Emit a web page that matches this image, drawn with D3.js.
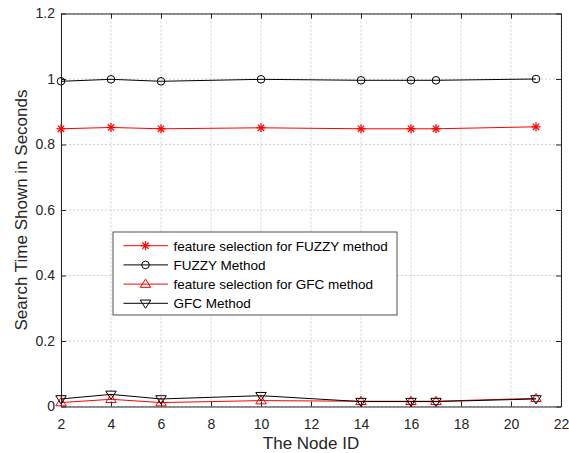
<!DOCTYPE html>
<html>
<head>
<meta charset="utf-8">
<script src="https://cdn.jsdelivr.net/npm/d3@7"></script>
<style>
  body { margin: 0; background: #fff; }
  text { font-family: "Liberation Sans", Arial, sans-serif; }
</style>
</head>
<body>
<svg id="chart" width="569" height="453"></svg>
<script>
// node ids on the x axis
let nodeIds = [2, 4, 6, 10, 14, 16, 17, 21];

// search times
let fuzzyFeature = [0.848, 0.852, 0.848, 0.851, 0.848, 0.848, 0.848, 0.854];
let fuzzyMethod = [0.993, 0.999, 0.993, 0.999, 0.996, 0.996, 0.996, 1.000];
let gfcFeature = [0.012, 0.022, 0.012, 0.018, 0.016, 0.016, 0.016, 0.025];
let gfcMethod = [0.023, 0.037, 0.023, 0.033, 0.015, 0.015, 0.015, 0.023];

let xTicks = [2, 4, 6, 8, 10, 12, 14, 16, 18, 20, 22];
let yTicks = [0, 0.2, 0.4, 0.6, 0.8, 1, 1.2];

let seriesNames = ['feature selection for FUZZY method', 'FUZZY Method',
    'feature selection for GFC method', 'GFC Method'];

let series = [
    { name: seriesNames[0], values: fuzzyFeature, color: 'red', marker: 'star' },
    { name: seriesNames[1], values: fuzzyMethod, color: 'black', marker: 'circle' },
    { name: seriesNames[2], values: gfcFeature, color: 'red', marker: 'triUp' },
    { name: seriesNames[3], values: gfcMethod, color: 'black', marker: 'triDown' }
];

let svg = d3.select('#chart');
let plotL = 61, plotR = 561, plotT = 13.5, plotB = 406.5;

let x = d3.scaleLinear().domain([2, 22]).range([plotL, plotR]);
let y = d3.scaleLinear().domain([0, 1.2]).range([plotB, plotT]);

// grid
let grid = svg.append('g');
xTicks.forEach(t => {
    grid.append('line')
        .attr('x1', x(t)).attr('x2', x(t)).attr('y1', plotT).attr('y2', plotB)
        .attr('stroke', '#c4c4c4').attr('stroke-width', 0.8).attr('stroke-dasharray', '2,2');
});
yTicks.forEach(t => {
    grid.append('line')
        .attr('x1', plotL).attr('x2', plotR).attr('y1', y(t)).attr('y2', y(t))
        .attr('stroke', '#c4c4c4').attr('stroke-width', 0.8).attr('stroke-dasharray', '2,2');
});

// axes with inward ticks
svg.append('g').attr('transform', `translate(0,${plotB})`)
    .call(d3.axisBottom(x).tickValues(xTicks).tickSize(-5).tickPadding(13).tickSizeOuter(0));
svg.append('g').attr('transform', `translate(${plotL},0)`)
    .call(d3.axisLeft(y).tickValues(yTicks).tickSize(-5).tickPadding(6).tickSizeOuter(0)
        .tickFormat(d => d3.format('~g')(d)));
svg.append('g').attr('transform', `translate(0,${plotT})`)
    .call(d3.axisTop(x).tickValues(xTicks).tickSize(-5).tickFormat('').tickSizeOuter(0));
svg.append('g').attr('transform', `translate(${plotR},0)`)
    .call(d3.axisRight(y).tickValues(yTicks).tickSize(-5).tickFormat('').tickSizeOuter(0));

svg.selectAll('.domain').attr('stroke', '#262626');
svg.selectAll('.tick line').attr('stroke', '#262626');
svg.selectAll('.tick text').attr('fill', '#262626').style('font-size', '14px');

// axis titles
svg.append('text').attr('x', (plotL + plotR) / 2).attr('y', 449)
    .attr('text-anchor', 'middle').attr('fill', '#262626').style('font-size', '17px')
    .text('The Node ID');
svg.append('text').attr('transform', `translate(27,${(plotT + plotB) / 2}) rotate(-90)`)
    .attr('text-anchor', 'middle').attr('fill', '#262626').style('font-size', '17px')
    .text('Search Time Shown in Seconds');

// marker drawing
function drawMarker(g, type, color, cx, cy) {
    if (type === 'circle') {
        g.append('circle').attr('cx', cx).attr('cy', cy).attr('r', 3.8)
            .attr('fill', 'none').attr('stroke', color).attr('stroke-width', 1);
    } else if (type === 'star') {
        let r = 4.5;
        [0, 45, 90, 135].forEach(a => {
            let rad = a * Math.PI / 180;
            g.append('line')
                .attr('x1', cx - r * Math.cos(rad)).attr('y1', cy - r * Math.sin(rad))
                .attr('x2', cx + r * Math.cos(rad)).attr('y2', cy + r * Math.sin(rad))
                .attr('stroke', color).attr('stroke-width', 1.3);
        });
    } else {
        let s = type === 'triUp' ? 1 : -1;
        let r = 5;
        let pts = [[cx, cy - s * r], [cx - r * 1.05, cy + s * r * 0.65], [cx + r * 1.05, cy + s * r * 0.65]];
        g.append('polygon').attr('points', pts.map(p => p.join(',')).join(' '))
            .attr('fill', 'none').attr('stroke', color).attr('stroke-width', 1);
    }
}

let line = d3.line().x(d => x(d[0])).y(d => y(d[1]));

series.forEach(s => {
    let pts = nodeIds.map((n, i) => [n, s.values[i]]);
    let g = svg.append('g');
    g.append('path').datum(pts).attr('d', line)
        .attr('fill', 'none').attr('stroke', s.color).attr('stroke-width', 1);
    pts.forEach(p => drawMarker(g, s.marker, s.color, x(p[0]), y(p[1])));
});

// legend
let lg = svg.append('g').attr('transform', 'translate(113,232)');
lg.append('rect').attr('width', 284).attr('height', 83)
    .attr('fill', '#fff').attr('stroke', '#262626').attr('stroke-width', 0.8);
series.forEach((s, i) => {
    let ly = 13.7 + i * 19.2;
    lg.append('line').attr('x1', 10.5).attr('x2', 55).attr('y1', ly).attr('y2', ly)
        .attr('stroke', s.color).attr('stroke-width', 1);
    drawMarker(lg, s.marker, s.color, 32.5, ly);
    lg.append('text').attr('x', 60.5).attr('y', ly + 5)
        .attr('fill', '#000').style('font-size', '13.5px').text(s.name);
});
</script>
</body>
</html>
